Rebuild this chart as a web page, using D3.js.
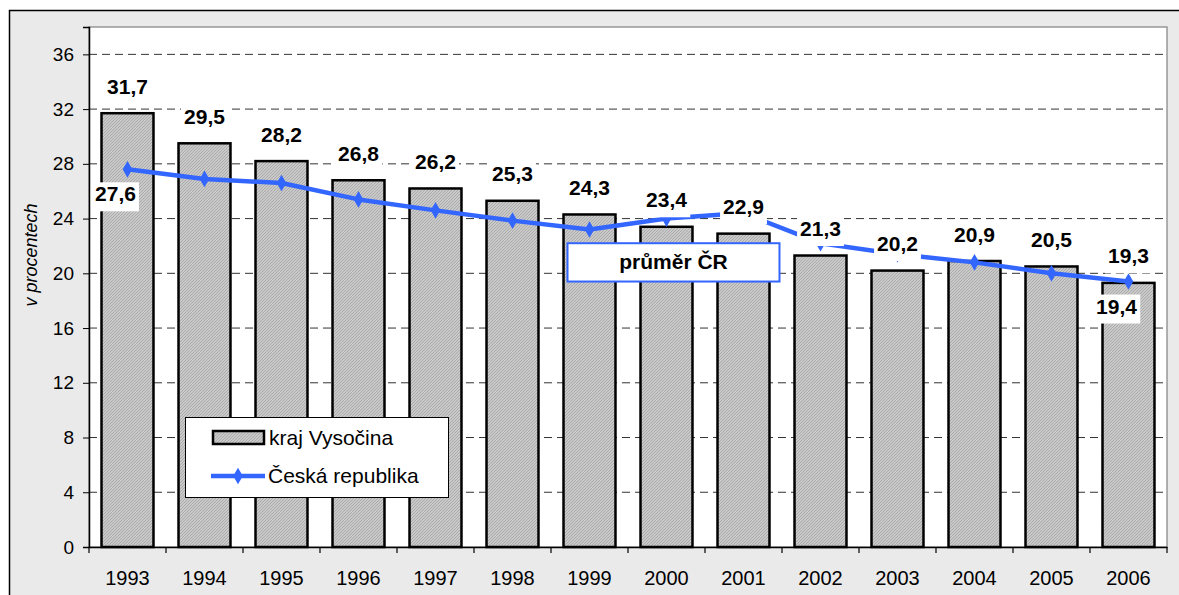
<!DOCTYPE html>
<html>
<head>
<meta charset="utf-8">
<script src="https://cdn.jsdelivr.net/npm/d3@7"></script>
<style>
  html, body { margin: 0; padding: 0; background: #ffffff; }
  svg { display: block; font-family: Arial, "Liberation Sans", sans-serif; }
</style>
</head>
<body>
<svg id="chart" width="1179" height="595"></svg>
<script>
// ---- data ----
const years = ["1993","1994","1995","1996","1997","1998","1999","2000","2001","2002","2003","2004","2005","2006"];
const krajVysocina = [31.7, 29.5, 28.2, 26.8, 26.2, 25.3, 24.3, 23.4, 22.9, 21.3, 20.2, 20.9, 20.5, 19.3];
const ceskaRepublika = [27.6, 26.9, 26.6, 25.4, 24.6, 23.85, 23.2, 24.0, 24.4, 22.2, 21.4, 20.8, 20.0, 19.4];
const yTicks = [0, 4, 8, 12, 16, 20, 24, 28, 32, 36];
const lineLabelIdx = [0, 13];
const seriesNames = ["kraj Vysočina", "Česká republika"];
const yTitle = "v procentech";
const noteText = "průměr ČR";

const fmt = v => d3.format(".1f")(v).replace(".", ",");

const svg = d3.select("#chart");
const L = 89, R = 1167, T = 27, B = 547;
const blue = "#3366ff";
const FONT = "Arial, 'Liberation Sans', sans-serif";

// pattern for bars
const defs = svg.append("defs");
const pat = defs.append("pattern").attr("id", "hatch").attr("patternUnits", "userSpaceOnUse")
  .attr("width", 3).attr("height", 3);
pat.append("rect").attr("width", 3).attr("height", 3).attr("fill", "#c9c9c9");
pat.append("path").attr("d", "M0,3 L3,0").attr("stroke", "#a3a3a3").attr("stroke-width", 0.8);

// outer frame
svg.append("rect").attr("x", 9.5).attr("y", 10.5).attr("width", 1300).attr("height", 700)
  .attr("fill", "#eaeaea").attr("stroke", "#000").attr("stroke-width", 1.5);

// plot area
svg.append("rect").attr("x", L).attr("y", T).attr("width", R - L).attr("height", B - T)
  .attr("fill", "#fff").attr("stroke", "#808080").attr("stroke-width", 1.2);

const x = d3.scaleBand().domain(years).range([L, R]).paddingInner(0.325).paddingOuter(0.1625);
const y = d3.scaleLinear().domain([0, 38]).range([B, T]);
const cx = d => x(d) + x.bandwidth() / 2;

// gridlines
svg.append("g").selectAll("line").data(yTicks.filter(t => t > 0)).join("line")
  .attr("x1", L).attr("x2", R).attr("y1", d => y(d)).attr("y2", d => y(d))
  .attr("stroke", "#333").attr("stroke-width", 1).attr("stroke-dasharray", "8,5");

// bars
svg.append("g").selectAll("rect").data(years).join("rect")
  .attr("x", d => x(d)).attr("width", x.bandwidth())
  .attr("y", (d, i) => y(krajVysocina[i])).attr("height", (d, i) => B - y(krajVysocina[i]))
  .attr("fill", "url(#hatch)").attr("stroke", "#000").attr("stroke-width", 2.5);

// y axis
const yAxis = d3.axisLeft(y).tickValues(yTicks).tickSize(6).tickPadding(9);
const gy = svg.append("g").attr("transform", `translate(${L},0)`).call(yAxis);
gy.select(".domain").attr("stroke", "#000").attr("stroke-width", 1.5);
gy.selectAll(".tick line").attr("stroke", "#000");
gy.selectAll(".tick text").attr("font-size", 19).attr("fill", "#000").attr("font-family", FONT);

// x axis
const xAxis = d3.axisBottom(x).tickSize(0).tickPadding(24);
const gx = svg.append("g").attr("transform", `translate(0,${B})`).call(xAxis);
gx.select(".domain").attr("stroke", "#000").attr("stroke-width", 1.5);
gx.selectAll(".tick text").attr("font-size", 20).attr("fill", "#000").attr("font-family", FONT);
// category boundary ticks
const bounds = years.map(d => x(d) - x.step() * x.paddingInner() / 2).concat([R]);
svg.append("g").selectAll("line").data(bounds).join("line")
  .attr("x1", d => d).attr("x2", d => d).attr("y1", B).attr("y2", B + 6)
  .attr("stroke", "#000").attr("stroke-width", 1.2);

// line
const lineGen = d3.line().x((d, i) => cx(years[i])).y(d => y(d));
svg.append("path").datum(ceskaRepublika).attr("d", lineGen)
  .attr("fill", "none").attr("stroke", blue).attr("stroke-width", 4.5).attr("stroke-linejoin", "round");
svg.append("g").selectAll("path").data(ceskaRepublika).join("path")
  .attr("transform", (d, i) => `translate(${cx(years[i])},${y(d)})`)
  .attr("d", d3.symbol(d3.symbolDiamond, 80)).attr("fill", blue);

// labels with white background
function label(g, tx, ty, txt) {
  const grp = g.append("g");
  const bg = grp.append("rect").attr("fill", "#fff");
  const t = grp.append("text").attr("x", tx).attr("y", ty).attr("text-anchor", "middle")
    .attr("font-size", 21).attr("font-weight", "bold").attr("fill", "#000").text(txt);
  const bb = t.node().getBBox();
  bg.attr("x", bb.x - 3).attr("y", ty - 19).attr("width", bb.width + 6).attr("height", 29);
}
const labG = svg.append("g");
years.forEach((d, i) => label(labG, cx(d), y(krajVysocina[i]) - 19.5, fmt(krajVysocina[i])));
lineLabelIdx.forEach(i => label(labG, cx(years[i]) - 12, y(ceskaRepublika[i]) + 32, fmt(ceskaRepublika[i])));

// note box
const nx0 = x("1999") + 4, nx1 = x("2001") + x.bandwidth() + 10;
const ny0 = y(22.2), ny1 = y(19.4);
svg.append("rect").attr("x", nx0).attr("y", ny0).attr("width", nx1 - nx0).attr("height", ny1 - ny0)
  .attr("fill", "#fff").attr("stroke", blue).attr("stroke-width", 2);
svg.append("text").attr("x", (nx0 + nx1) / 2).attr("y", ny0 + 26).attr("text-anchor", "middle")
  .attr("font-size", 21).attr("font-weight", "bold").attr("fill", "#000").text(noteText);

// y title
svg.append("text").attr("transform", "translate(37,255) rotate(-90)").attr("text-anchor", "middle")
  .attr("font-size", 18).attr("font-style", "italic").attr("fill", "#000").text(yTitle);

// legend
const lg = svg.append("g");
lg.append("rect").attr("x", 185.5).attr("y", 417.5).attr("width", 263).attr("height", 80)
  .attr("fill", "#fff").attr("stroke", "#000").attr("stroke-width", 1);
lg.append("rect").attr("x", 213).attr("y", 431).attr("width", 51).attr("height", 13)
  .attr("fill", "url(#hatch)").attr("stroke", "#000").attr("stroke-width", 2.5);
lg.append("text").attr("x", 269).attr("y", 445).attr("font-size", 21).attr("fill", "#000").text(seriesNames[0]);
lg.append("line").attr("x1", 211).attr("x2", 265).attr("y1", 476).attr("y2", 476)
  .attr("stroke", blue).attr("stroke-width", 4.5);
lg.append("path").attr("transform", "translate(238,476)").attr("d", d3.symbol(d3.symbolDiamond, 80)).attr("fill", blue);
lg.append("text").attr("x", 268).attr("y", 483).attr("font-size", 21).attr("fill", "#000").text(seriesNames[1]);
</script>
</body>
</html>
